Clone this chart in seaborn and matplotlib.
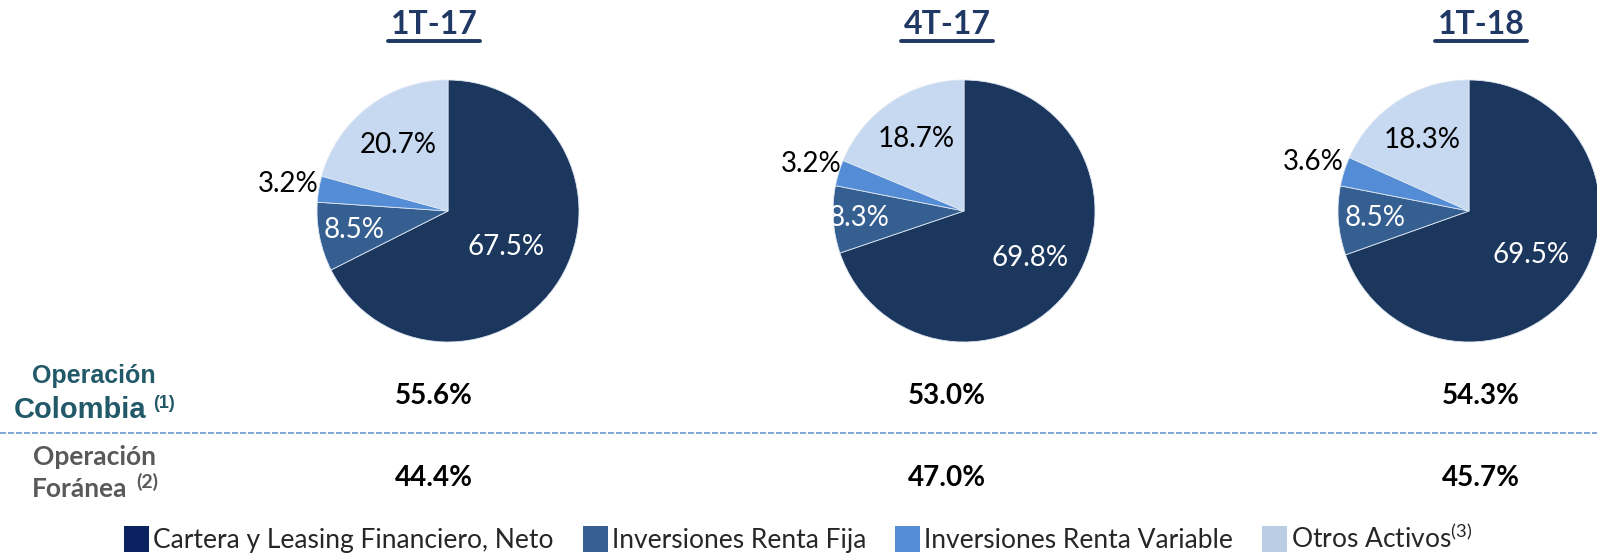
import matplotlib
matplotlib.use("Agg")
import matplotlib.pyplot as plt
import seaborn as sns
from matplotlib.patches import Patch
from matplotlib.lines import Line2D
import numpy as np

# data
periods = ["1T-17", "4T-17", "1T-18"]
categories = ["Cartera y Leasing Financiero, Neto", "Inversiones Renta Fija",
              "Inversiones Renta Variable", "Otros Activos"]
cartera = [67.5, 69.8, 69.5]
renta_fija = [8.5, 8.3, 8.5]
renta_variable = [3.2, 3.2, 3.6]
otros = [20.7, 18.7, 18.3]
op_colombia = [55.6, 53.0, 54.3]
op_foranea = [44.4, 47.0, 45.7]

sns.set_theme(style="white")
plt.rcParams["font.family"] = ["Lato", "DejaVu Sans"]
plt.rcParams["mathtext.fontset"] = "custom"
plt.rcParams["mathtext.rm"] = "Lato"

pie_colors = ["#1b375e", "#365f91", "#548dd5", "#c6d9f0"]
legend_colors = ["#0b2260", "#385f91", "#558ed5", "#b9cde5"]
label_colors = ["white", "white", "black", "black"]
label_dist = [[0.52, 0.73, 1.24, 0.63],
              [0.62, 0.80, 1.22, 0.66],
              [0.58, 0.72, 1.25, 0.65]]
navy = "#1f3864"

W, H = 1597, 553
fig = plt.figure(figsize=(W / 100, H / 100), dpi=100)

R = 131
cy = 211
pie_cx = [448, 964, 1469]
col_x = [434, 947, 1481]

titles = []
for i, p in enumerate(periods):
    cx = pie_cx[i]
    ax = fig.add_axes([(cx - R) / W, 1 - (cy + R) / H, 2 * R / W, 2 * R / H])
    vals = [cartera[i], renta_fija[i], renta_variable[i], otros[i]]
    wedges, _ = ax.pie(vals, colors=pie_colors, startangle=90, counterclock=False,
                       wedgeprops=dict(linewidth=0.6, edgecolor="#dde6f2"))
    ax.set_xlim(-1, 1)
    ax.set_ylim(-1, 1)
    ax.axis("off")
    for j, w in enumerate(wedges):
        ang = np.deg2rad((w.theta1 + w.theta2) / 2)
        d = label_dist[i][j]
        ax.text(d * np.cos(ang), d * np.sin(ang), f"{vals[j]:.1f}%",
                ha="center", va="center", fontsize=20, color=label_colors[j],
                clip_on=False)

    t = fig.text(col_x[i] / W, 1 - 24 / H, p, ha="center", va="center",
                 fontsize=23, fontweight="bold", color=navy)
    titles.append(t)

    fig.text(col_x[i] / W, 1 - 396 / H, f"{op_colombia[i]:.1f}%", ha="center",
             va="center", fontsize=20, fontweight="bold", color="black")
    fig.text(col_x[i] / W, 1 - 478 / H, f"{op_foranea[i]:.1f}%", ha="center",
             va="center", fontsize=20, fontweight="bold", color="black")

# row labels
teal = "#215968"
grey = "#595959"
fig.text(94 / W, 1 - 376 / H, "Operación", ha="center", va="center", fontsize=18,
         fontweight="bold", color=teal, family="Liberation Sans")
fig.text(80 / W, 1 - 410 / H, "Colombia", ha="center", va="center", fontsize=21,
         fontweight="bold", color=teal, family="Liberation Sans")
fig.text(164 / W, 1 - 403 / H, "(1)", ha="center", va="center", fontsize=13,
         fontweight="bold", color=teal, family="Liberation Sans")
fig.text(94 / W, 1 - 457 / H, "Operación", ha="center", va="center", fontsize=19,
         fontweight="bold", color=grey)
fig.text(32 / W, 1 - 489 / H, "Foránea", ha="left", va="center", fontsize=19,
         fontweight="bold", color=grey)
fig.text(147 / W, 1 - 482 / H, "(2)", ha="center", va="center", fontsize=14,
         fontweight="bold", color=grey)

# dashed separator
fig.add_artist(Line2D([0, 1], [1 - 433 / H, 1 - 433 / H], transform=fig.transFigure,
                      color="#6b97cf", linestyle=(0, (3.6, 1.2)), linewidth=1.2))

# underline the titles
fig.canvas.draw()
renderer = fig.canvas.get_renderer()
for t in titles:
    bb = t.get_window_extent(renderer)
    y = (bb.y0 - 2) / H
    fig.add_artist(Line2D([(bb.x0 - 3) / W, (bb.x1 + 3) / W], [y, y],
                          transform=fig.transFigure, color=navy, linewidth=2.8))

# legend
labels = categories[:3] + [categories[3] + "$^{(3)}$"]
handles = [Patch(facecolor=c, edgecolor="none") for c in legend_colors]
fig.legend(handles, labels, loc="center", bbox_to_anchor=(0.5, 1 - 538 / H),
           ncol=4, frameon=False, fontsize=19, handlelength=0.95, handleheight=1.15,
           handletextpad=0.15, columnspacing=1.1, borderaxespad=0)

fig.savefig("out.png", dpi=100)
